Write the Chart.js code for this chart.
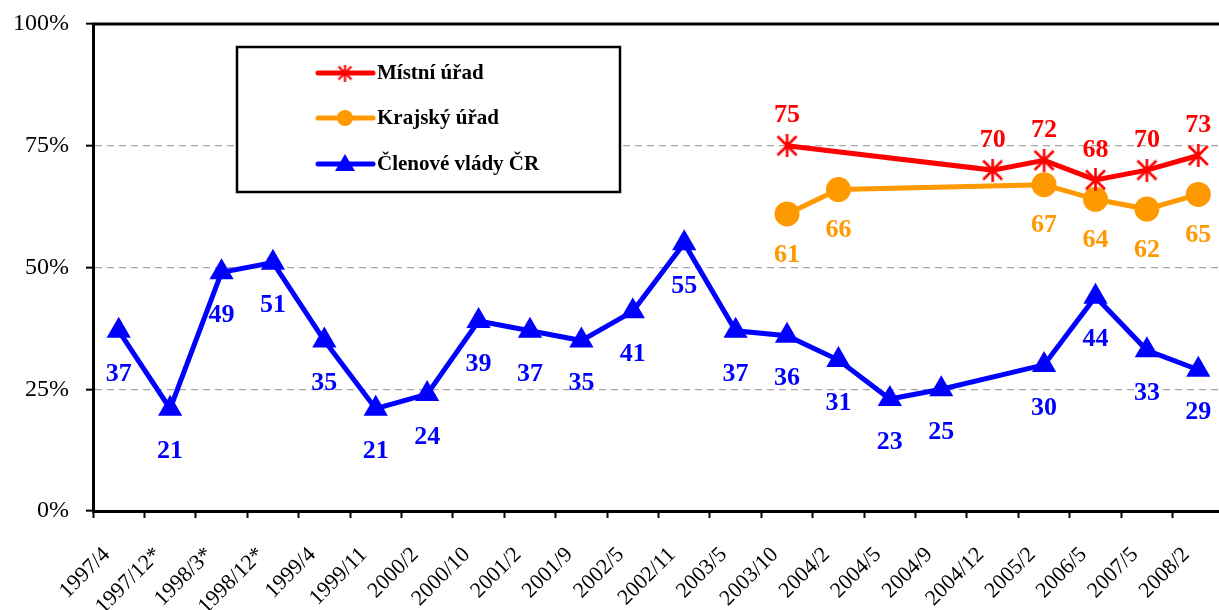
<!DOCTYPE html>
<html>
<head>
<meta charset="utf-8">
<script src="https://cdn.jsdelivr.net/npm/chart.js@4.4.0/dist/chart.umd.min.js"></script>
<style>
html,body{margin:0;padding:0;overflow:hidden;background:#fff;width:1219px;height:610px;}
canvas{display:block;}
</style>
</head>
<body>
<canvas id="c" width="1240" height="610"></canvas>
<script>
const categories = ["1997/4","1997/12*","1998/3*","1998/12*","1999/4","1999/11","2000/2","2000/10","2001/2","2001/9","2002/5","2002/11","2003/5","2003/10","2004/2","2004/5","2004/9","2004/12","2005/2","2006/5","2007/5","2008/2"];
const mistniUrad = [null,null,null,null,null,null,null,null,null,null,null,null,null,75,null,null,null,70,72,68,70,73];
const krajskyUrad = [null,null,null,null,null,null,null,null,null,null,null,null,null,61,66,null,null,null,67,64,62,65];
const clenoveVlady = [37,21,49,51,35,21,24,39,37,35,41,55,37,36,31,23,25,null,30,44,33,29];
const yTicks = [0,25,50,75,100];
const seriesNames = ["Místní úřad","Krajský úřad","Členové vlády ČR"];

const RED = '#FF0000', ORANGE = '#FF9900', BLUE = '#0000FF';

function starCanvas(size, lw, color){
  const c = document.createElement('canvas');
  c.width = size; c.height = size;
  const g = c.getContext('2d');
  g.strokeStyle = color; g.lineWidth = lw; g.lineCap = 'butt';
  const p = 2, s = size - 2;
  g.beginPath();
  g.moveTo(p,p); g.lineTo(s,s);
  g.moveTo(s,p); g.lineTo(p,s);
  g.moveTo(size/2,0); g.lineTo(size/2,size);
  g.stroke();
  return c;
}
const starImg = starCanvas(23, 2.6, RED);

const labelOffsets = [-30, 41, 43];

const labelsPlugin = {
  id: 'valueLabels',
  afterDatasetsDraw(chart){
    const ctx = chart.ctx;
    ctx.save();
    ctx.font = 'bold 26px "Liberation Serif", "Times New Roman", serif';
    ctx.textAlign = 'center';
    ctx.textBaseline = 'middle';
    chart.data.datasets.forEach((ds, di) => {
      const meta = chart.getDatasetMeta(di);
      ctx.fillStyle = ds.borderColor;
      meta.data.forEach((pt, i) => {
        const v = ds.data[i];
        if (v === null || v === undefined) return;
        ctx.fillText(String(v), pt.x, pt.y + labelOffsets[di]);
      });
    });
    ctx.restore();
  }
};

const framePlugin = {
  id: 'frame',
  afterDraw(chart){
    const ctx = chart.ctx, a = chart.chartArea;
    ctx.save();
    ctx.strokeStyle = '#000';
    ctx.lineWidth = 3;
    ctx.beginPath();
    ctx.moveTo(a.left - 1, a.top);
    ctx.lineTo(a.right, a.top);
    ctx.lineTo(a.right, a.bottom);
    ctx.stroke();
    ctx.restore();
  }
};

const legendPlugin = {
  id: 'boxLegend',
  afterDraw(chart){
    const ctx = chart.ctx;
    ctx.save();
    ctx.fillStyle = '#fff';
    ctx.fillRect(237, 47, 383, 145);
    ctx.strokeStyle = '#000';
    ctx.lineWidth = 2.5;
    ctx.strokeRect(237, 47, 383, 145);
    const rows = [73, 118, 164];
    chart.data.datasets.forEach((ds, i) => {
      const y = rows[i];
      ctx.strokeStyle = ds.borderColor;
      ctx.lineWidth = 5;
      ctx.lineCap = 'round';
      ctx.beginPath(); ctx.moveTo(318, y); ctx.lineTo(373, y); ctx.stroke();
      ctx.lineCap = 'butt';
      const cx = 345;
      if (i === 0) {
        ctx.drawImage(starCanvas(17, 2.2, RED), cx - 8.5, y - 8.5);
      } else if (i === 1) {
        ctx.fillStyle = ORANGE;
        ctx.beginPath(); ctx.arc(cx, y, 8, 0, Math.PI*2); ctx.fill();
      } else {
        ctx.fillStyle = BLUE;
        ctx.beginPath();
        ctx.moveTo(cx, y - 10); ctx.lineTo(cx + 10, y + 7); ctx.lineTo(cx - 10, y + 7);
        ctx.closePath(); ctx.fill();
      }
      ctx.fillStyle = '#000';
      ctx.font = 'bold 21px "Liberation Serif", "Times New Roman", serif';
      ctx.textAlign = 'left';
      ctx.textBaseline = 'middle';
      ctx.fillText(ds.label, 377, y + 1);
    });
    ctx.restore();
  }
};

new Chart(document.getElementById('c'), {
  type: 'line',
  data: {
    labels: categories,
    datasets: [
      { label: seriesNames[0], data: mistniUrad, borderColor: RED, backgroundColor: RED,
        borderWidth: 5, pointStyle: starImg, pointRadius: 11, spanGaps: true, tension: 0 },
      { label: seriesNames[1], data: krajskyUrad, borderColor: ORANGE, backgroundColor: ORANGE,
        borderWidth: 5, pointStyle: 'circle', pointRadius: 12.5, pointBorderWidth: 0, spanGaps: true, tension: 0 },
      { label: seriesNames[2], data: clenoveVlady, borderColor: BLUE, backgroundColor: BLUE,
        borderWidth: 5, pointStyle: 'triangle', pointRadius: 14, pointBorderWidth: 0, spanGaps: true, tension: 0 }
    ]
  },
  options: {
    responsive: false,
    animation: false,
    devicePixelRatio: 1,
    layout: { padding: { left: 0, right: 10, top: 24, bottom: 0 } },
    plugins: { legend: { display: false }, tooltip: { enabled: false }, title: { display: false } },
    elements: { line: { borderJoinStyle: 'miter', borderCapStyle: 'butt' } },
    scales: {
      x: {
        offset: true,
        grid: { display: true, offset: true, drawOnChartArea: false, drawTicks: true, tickLength: 7,
                tickColor: '#000', tickWidth: 2, color: '#000' },
        border: { display: true, color: '#000', width: 3 },
        ticks: { autoSkip: false, minRotation: 45, maxRotation: 45, padding: 24, labelOffset: -12,
                 color: '#000', font: { family: '"Liberation Serif", "Times New Roman", serif', size: 22 } },
        afterFit(scale){ scale.height = 99; scale.paddingLeft = 0; scale.paddingRight = 0; }
      },
      y: {
        min: 0, max: 100,
        afterBuildTicks(scale){ scale.ticks = yTicks.map(v => ({ value: v })); },
        grid: { drawTicks: true, tickLength: 7, tickColor: '#000', tickWidth: 2, lineWidth: 1.3,
                color: (c) => (c.tick && (c.tick.value === 0 || c.tick.value === 100)) ? 'rgba(0,0,0,0)' : '#A6A6A6' },
        border: { display: true, color: '#000', width: 3, dash: [7, 5] },
        ticks: { padding: 17, color: '#000', callback: (v) => v + '%',
                 font: { family: '"Liberation Serif", "Times New Roman", serif', size: 24 } },
        afterFit(scale){ scale.width = 93; scale.paddingTop = 0; scale.paddingBottom = 0; }
      }
    }
  },
  plugins: [labelsPlugin, framePlugin, legendPlugin]
});
</script>
</body>
</html>
